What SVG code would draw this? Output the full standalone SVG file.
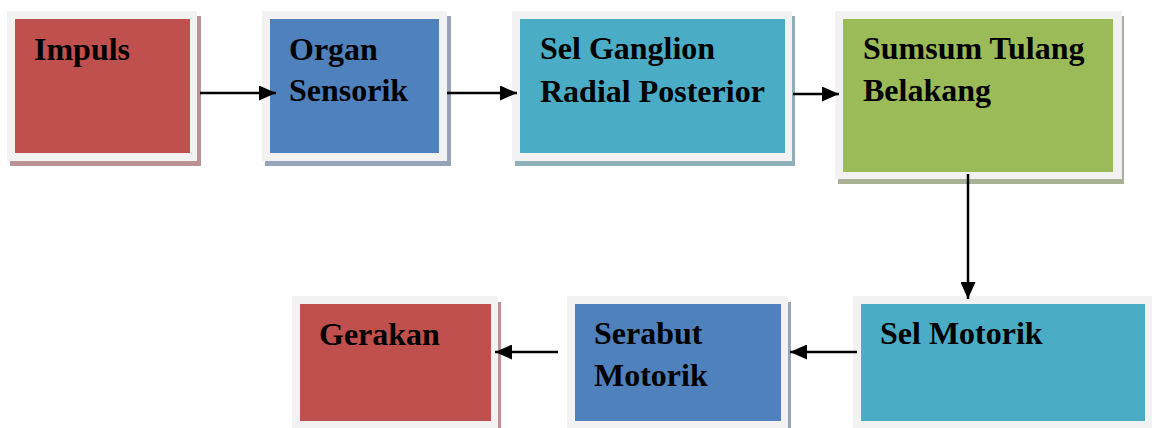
<svg xmlns="http://www.w3.org/2000/svg" width="1152" height="428" viewBox="0 0 1152 428">
  <style>
    .frame { fill: #F2F2F2; }
    .label { font-family: 'Liberation Serif', 'DejaVu Serif', serif; font-weight: 700; font-size: 32px; fill: #000; }
    .conn { stroke: #000; stroke-width: 2.5; fill: none; }
  </style>
  <defs>
    <marker id="arrow" viewBox="0 0 17 15" refX="17" refY="7.5" markerWidth="17" markerHeight="15" markerUnits="userSpaceOnUse" orient="auto">
      <polygon points="0,0 17,7.5 0,15" fill="#000"/>
    </marker>
  </defs>
  <rect width="1152" height="428" fill="#fff"/>

  <!-- top row -->
  <g id="impuls">
    <rect x="10" y="16" width="191" height="150" fill="#BA9494"/>
    <rect class="frame" x="7" y="11" width="190" height="150"/>
    <rect x="15" y="19" width="175" height="134" fill="#C0504D"/>
    <text class="label" font-family="Liberation Serif, serif" x="34" y="60">Impuls</text>
  </g>

  <g id="organ-sensorik">
    <rect x="265" y="16" width="186" height="150" fill="#97A3B6"/>
    <rect class="frame" x="262" y="11" width="185" height="150"/>
    <rect x="270" y="19" width="169" height="134" fill="#4F81BD"/>
    <text class="label" x="289" y="60">Organ</text>
    <text class="label" x="289" y="101">Sensorik</text>
  </g>

  <g id="sel-ganglion">
    <rect x="515" y="16" width="280" height="150" fill="#8FAFB9"/>
    <rect class="frame" x="512" y="11" width="280" height="150"/>
    <rect x="520" y="19" width="265" height="134" fill="#4BACC6"/>
    <text class="label" x="540" y="59">Sel Ganglion</text>
    <text class="label" x="540" y="102">Radial Posterior</text>
  </g>

  <g id="sumsum-tulang">
    <rect x="838" y="16" width="286" height="168" fill="#A8B096"/>
    <rect class="frame" x="835" y="11" width="287" height="168"/>
    <rect x="843" y="19" width="270" height="153" fill="#9BBB59"/>
    <text class="label" x="863" y="59">Sumsum Tulang</text>
    <text class="label" x="863" y="101">Belakang</text>
  </g>

  <!-- bottom row -->
  <g id="gerakan">
    <rect x="295" y="302" width="206" height="130" fill="#BA9494"/>
    <rect class="frame" x="292" y="296" width="206" height="132"/>
    <rect x="300" y="304" width="191" height="117" fill="#C0504D"/>
    <text class="label" x="319" y="345">Gerakan</text>
  </g>

  <g id="serabut-motorik">
    <rect x="570" y="302" width="221" height="130" fill="#97A3B6"/>
    <rect class="frame" x="567" y="296" width="221" height="132"/>
    <rect x="575" y="304" width="206" height="117" fill="#4F81BD"/>
    <text class="label" x="594" y="344">Serabut</text>
    <text class="label" x="594" y="386">Motorik</text>
  </g>

  <g id="sel-motorik">
    <rect class="frame" x="853" y="296" width="299" height="132"/>
    <rect x="861" y="304" width="284" height="117" fill="#4BACC6"/>
    <text class="label" x="880" y="344">Sel Motorik</text>
  </g>

  <!-- connectors -->
  <g id="connectors">
    <line class="conn" x1="200" y1="93" x2="276" y2="93" marker-end="url(#arrow)"/>
    <line class="conn" x1="447" y1="93" x2="517" y2="93" marker-end="url(#arrow)"/>
    <line class="conn" x1="793" y1="94" x2="839" y2="94" marker-end="url(#arrow)"/>
    <line class="conn" x1="968" y1="174" x2="968" y2="299" marker-end="url(#arrow)"/>
    <line class="conn" x1="857" y1="352" x2="790" y2="352" marker-end="url(#arrow)"/>
    <line class="conn" x1="558" y1="352" x2="495" y2="352" marker-end="url(#arrow)"/>
  </g>
</svg>
